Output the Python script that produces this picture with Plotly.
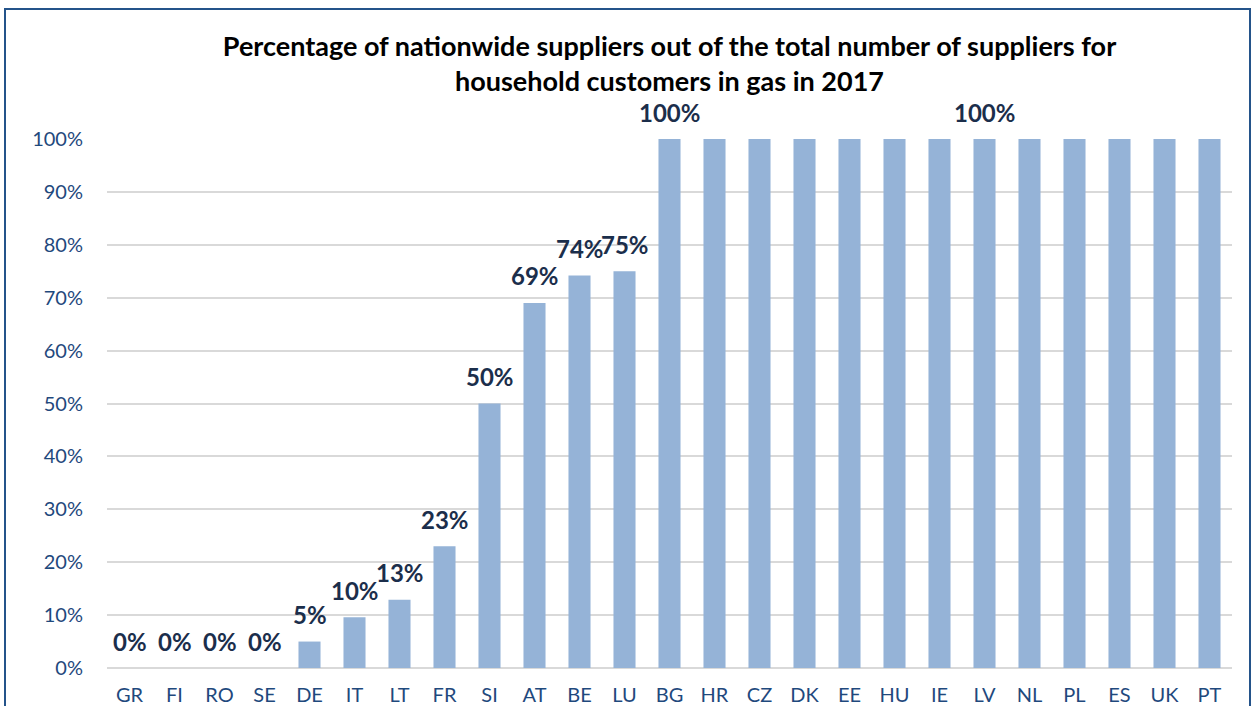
import plotly.graph_objects as go

countries = ["GR", "FI", "RO", "SE", "DE", "IT", "LT", "FR", "SI", "AT", "BE", "LU",
             "BG", "HR", "CZ", "DK", "EE", "HU", "IE", "LV", "NL", "PL", "ES", "UK", "PT"]
values = [0.0, 0.0, 0.0, 0.0, 0.05, 0.096, 0.129, 0.23, 0.50, 0.69, 0.742, 0.75,
          1.0, 1.0, 1.0, 1.0, 1.0, 1.0, 1.0, 1.0, 1.0, 1.0, 1.0, 1.0, 1.0]
labels = ["0%", "0%", "0%", "0%", "5%", "10%", "13%", "23%", "50%", "69%", "74%", "75%",
          "100%", "", "", "", "", "", "", "100%", "", "", "", "", ""]
y_ticks = [i / 10 for i in range(11)]
y_tick_text = [f"{i * 10}%" for i in range(11)]

title = ("Percentage of nationwide suppliers out of the total number of suppliers for<br>"
         "household customers in gas in 2017")

W, H = 1253, 706
L, R, T, B = 107, 21, 139, 38
pw, ph = W - L - R, H - T - B

fig = go.Figure()
fig.add_trace(go.Bar(
    x=countries, y=values,
    marker=dict(color="#95B3D7", line=dict(width=0)),
    width=0.49,
    hoverinfo="x+y",
))

for c, v, t in zip(countries, values, labels):
    if t:
        fig.add_annotation(x=c, y=v, text=f"<b>{t}</b>", showarrow=False,
                           yshift=27, yanchor="middle", borderpad=0,
                           font=dict(family="Lato", size=24, color="#1B2E4B"))

fig.add_shape(type="rect", xref="paper", yref="paper",
              x0=(5 - L) / pw, x1=(1250 - L) / pw,
              y0=-(730 - (H - B)) / ph,
              y1=((H - B) - 9) / ph,
              line=dict(color="#24538A", width=2), fillcolor="rgba(0,0,0,0)", layer="below")

fig.update_layout(
    width=W, height=H,
    margin=dict(l=L, r=R, t=T, b=B, autoexpand=False),
    paper_bgcolor="white", plot_bgcolor="white",
    showlegend=False,
    title=dict(text=f"<b>{title}</b>", x=0.5, xref="paper", xanchor="center",
               y=(H - 56) / H, yanchor="middle",
               font=dict(family="Lato", size=27, color="#000000")),
    xaxis=dict(
        automargin=False,
        tickfont=dict(family="Lato", size=20, color="#1F497D"),
        ticks="outside", ticklen=9, tickcolor="rgba(0,0,0,0)",
        showgrid=False, showline=False, zeroline=False,
    ),
    yaxis=dict(
        automargin=False,
        range=[0, 1], tickvals=y_ticks, ticktext=y_tick_text,
        tickfont=dict(family="Lato", size=20, color="#1F497D"),
        ticks="outside", ticklen=19, tickcolor="rgba(0,0,0,0)",
        showgrid=True, gridcolor="#D9D9D9", gridwidth=1.5,
        zeroline=True, zerolinecolor="#D9D9D9", zerolinewidth=1.5,
        showline=False,
    ),
    bargap=0.51,
)

fig.write_html("out.html", config={"displayModeBar": False},
               post_script="document.body.style.margin='0';")
